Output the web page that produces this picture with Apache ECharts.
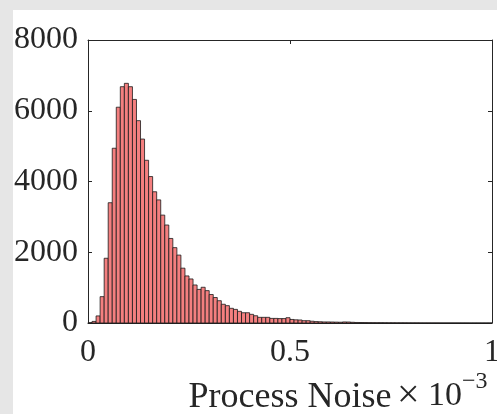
<!DOCTYPE html>
<html lang="en">
<head>
    <meta charset="UTF-8">
    <title>Process Noise histogram</title>
    <script src="https://cdn.jsdelivr.net/npm/echarts@6/dist/echarts.min.js"></script>
    <style>
        html, body { margin: 0; padding: 0; background: #e6e6e6; }
    </style>
</head>
<body>
<div id="box" style="width: 497px;height: 414px;"></div>
<script>
    // histogram bins (x in units of 1e-3)
    var binStart = 0;
    var binWidth = 0.01;
    var counts = [
        10, 45, 200, 745, 1830, 3400, 4940, 6100, 6680, 6775,
        6680, 6320, 5720, 5200, 4600, 4140, 3710, 3480, 3050, 2770,
        2390, 2130, 1920, 1550, 1330, 1245, 1075, 950, 1010, 915,
        805, 720, 630, 530, 490, 415, 385, 330, 290, 290,
        245, 205, 160, 160, 160, 130, 130, 125, 125, 150,
        100, 90, 85, 65, 65, 50, 40, 35, 30, 30,
        28, 25, 22, 30, 28, 20, 15, 14, 12, 10,
        9, 8, 8, 7, 6, 6, 5, 5, 5, 4,
        4, 4, 3, 3, 3, 3, 3, 2, 2, 2,
        2, 2, 2, 2, 1, 1, 1, 1, 1, 1
    ];
    var xTicks = [0, 0.5, 1];
    var yTicks = [0, 2000, 4000, 6000, 8000];
    var xName = 'Process Noise';

    var serif = 'Liberation Serif';
    var ink = '#262626';

    var bins = counts.map(function (c, i) {
        var lo = binStart + i * binWidth;
        return [lo, lo + binWidth, c];
    });

    var myChart = echarts.init(document.getElementById('box'));

    var axisCommon = {
        axisLine: { show: true, onZero: false, lineStyle: { color: ink, width: 1 } },
        axisTick: { show: true, inside: true, length: 4, lineStyle: { color: ink } },
        splitLine: { show: false }
    };

    var option = {
        backgroundColor: '#e6e6e6',
        animation: false,
        graphic: [
            { type: 'rect', left: 13, top: 10, z: -10, shape: { width: 484, height: 404 }, style: { fill: '#ffffff' } },
            { type: 'text', left: 397, top: 376, style: { text: '×', font: '40px "' + serif + '"', fill: ink } },
            { type: 'text', left: 428, top: 379, style: { text: '10', font: '34px "' + serif + '"', fill: ink } },
            { type: 'text', left: 462, top: 370, style: { text: '−3', font: '24px "' + serif + '"', fill: ink } }
        ],
        grid: { left: 88, right: 5, top: 40, bottom: 91, containLabel: false, outerBoundsMode: 'none' },
        xAxis: [
            Object.assign({
                type: 'value', position: 'bottom',
                min: xTicks[0], max: xTicks[xTicks.length - 1], interval: 0.5,
                name: xName, nameLocation: 'middle', nameGap: 57,
                nameTextStyle: { fontFamily: serif, fontSize: 36, color: ink },
                axisLabel: {
                    fontFamily: serif, fontSize: 32, color: ink, margin: 14,
                    formatter: function (v) { return String(v); }
                }
            }, axisCommon),
            Object.assign({
                type: 'value', position: 'top',
                min: xTicks[0], max: xTicks[xTicks.length - 1], interval: 0.5,
                axisLabel: { show: false }
            }, axisCommon)
        ],
        yAxis: [
            Object.assign({
                type: 'value', position: 'left',
                min: yTicks[0], max: yTicks[yTicks.length - 1], interval: 2000,
                axisLabel: {
                    fontFamily: serif, fontSize: 32, color: ink, margin: 10,
                    formatter: function (v) { return String(v); }
                }
            }, axisCommon),
            Object.assign({
                type: 'value', position: 'right',
                min: yTicks[0], max: yTicks[yTicks.length - 1], interval: 2000,
                axisLabel: { show: false }
            }, axisCommon)
        ],
        series: [{
            type: 'custom',
            xAxisIndex: 0,
            yAxisIndex: 0,
            data: bins,
            encode: { x: [0, 1], y: 2 },
            renderItem: function (params, api) {
                var p0 = api.coord([api.value(0), 0]);
                var p1 = api.coord([api.value(1), api.value(2)]);
                return {
                    type: 'rect',
                    shape: { x: p0[0], y: p1[1], width: p1[0] - p0[0], height: p0[1] - p1[1] },
                    style: { fill: '#f47f7f', stroke: '#1a1a1a', lineWidth: 0.8 }
                };
            }
        }]
    };
    myChart.setOption(option);
</script>
</body>
</html>
